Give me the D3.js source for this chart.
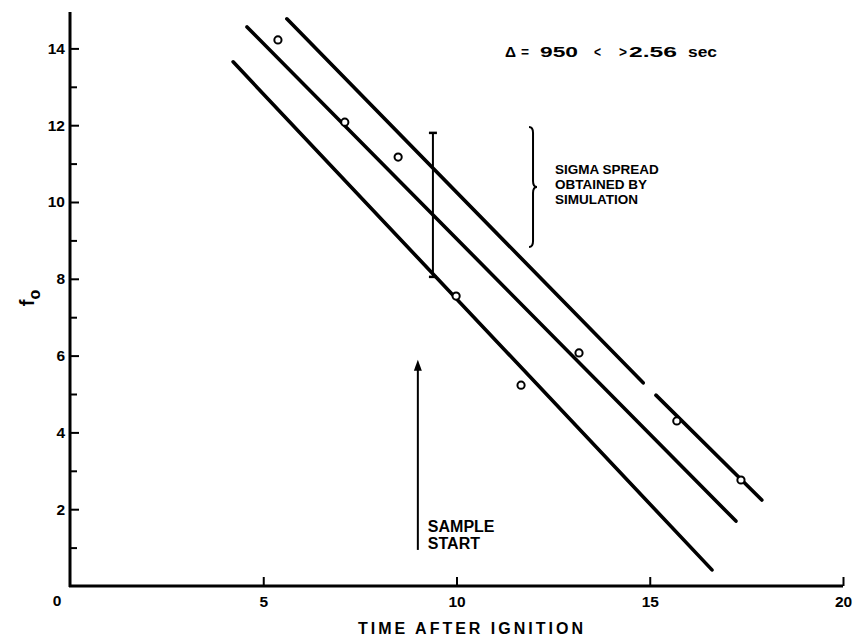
<!DOCTYPE html>
<html>
<head>
<meta charset="utf-8">
<script src="https://cdn.jsdelivr.net/npm/d3@7"></script>
<style>
  html, body { margin: 0; padding: 0; background: #fff; }
  svg { display: block; }
  text { font-family: "Liberation Sans", Arial, sans-serif; font-weight: bold; fill: #000; }
</style>
</head>
<body>
<svg id="chart" width="854" height="640"></svg>
<script>
// ---- data ----
const xTickValues = [5, 10, 15, 20];
const xTickLabels = ["5", "10", "15", "20"];
const yMajorValues = [2, 4, 6, 8, 10, 12, 14];
const yMajorLabels = ["2", "4", "6", "8", "10", "12", "14"];
const yMinorValues = [1, 3, 5, 7, 9, 11, 13];

// observed points (open circles)
const obsX = [5.38, 7.11, 8.49, 9.99, 11.67, 13.17, 15.70, 17.36];
const obsY = [14.22, 12.08, 11.17, 7.55, 5.23, 6.07, 4.30, 2.76];

// fitted line segments (upper line has a break)
const lineX0 = [5.61, 15.16, 4.58, 4.22];
const lineY0 = [14.77, 4.97, 14.56, 13.65];
const lineX1 = [14.83, 17.90, 17.23, 16.61];
const lineY1 = [5.29, 2.24, 1.69, 0.42];

// sigma error bar
const sigmaX = 9.39;
const sigmaLow = 8.05;
const sigmaHigh = 11.8;

// brace
const braceX = 11.98;
const braceTop = 11.95;
const braceBottom = 8.83;

// sample start arrow
const arrowX = 9.0;
const arrowBottom = 0.94;
const arrowTop = 5.89;

// annotation pieces
const deltaParts = ["\u0394", "=", "950", "<", ">", "2.56", "sec"];

const xDomain = [0, 20];
const yDomain = [0, 15];

// ---- layout ----
const svg = d3.select("#chart");
const x = d3.scaleLinear().domain(xDomain).range([70, 843]);
const y = d3.scaleLinear().domain(yDomain).range([586, 10]);

const yAxisMajor = d3.axisLeft(y).tickValues(yMajorValues)
  .tickFormat((d, i) => yMajorLabels[i]).tickSize(-9).tickPadding(6);
const yAxisMinor = d3.axisLeft(y).tickValues(yMinorValues)
  .tickFormat("").tickSize(-7);
const xAxis = d3.axisBottom(x).tickValues(xTickValues)
  .tickFormat((d, i) => xTickLabels[i]).tickSize(-9).tickPadding(8);

function styleAxis(g) {
  g.select(".domain").remove();
  g.selectAll(".tick line").attr("stroke", "#000").attr("stroke-width", 2);
  g.selectAll(".tick text").style("font-size", "15.5px")
    .style("font-family", '"Liberation Sans", Arial, sans-serif').style("font-weight", "bold");
}

const gy = svg.append("g").attr("transform", `translate(${x(0)},0)`).call(yAxisMajor).call(styleAxis);
gy.selectAll(".tick text").attr("x", -5).attr("dx", 0);
svg.append("g").attr("transform", `translate(${x(0)},0)`).call(yAxisMinor).call(styleAxis);
const gx = svg.append("g").attr("transform", `translate(0,${y(0)})`).call(xAxis).call(styleAxis);
gx.selectAll(".tick text").attr("y", 10);

svg.append("line").attr("x1", x(0)).attr("x2", x(0)).attr("y1", y(0) + 1).attr("y2", y(14.95))
  .attr("stroke", "#000").attr("stroke-width", 3);
svg.append("line").attr("x1", x(0) - 1).attr("x2", x(20)).attr("y1", y(0)).attr("y2", y(0))
  .attr("stroke", "#000").attr("stroke-width", 3);

svg.append("text").attr("x", x(0) - 13).attr("y", y(0) + 20).attr("text-anchor", "middle")
  .style("font-size", "15.5px").text("0");

svg.append("text").attr("x", 358).attr("y", 634)
  .attr("textLength", 225).attr("lengthAdjust", "spacing")
  .style("font-size", "16px").text("TIME AFTER IGNITION");

const yt = svg.append("text").attr("transform", `translate(34, 298) rotate(-90)`)
  .attr("text-anchor", "middle").style("font-size", "20px");
yt.append("tspan").text("f");
yt.append("tspan").attr("dy", 6).style("font-size", "16px").text("o");

const lineIdx = d3.range(lineX0.length);
svg.append("g").selectAll("line").data(lineIdx).join("line")
  .attr("x1", i => x(lineX0[i])).attr("y1", i => y(lineY0[i]))
  .attr("x2", i => x(lineX1[i])).attr("y2", i => y(lineY1[i]))
  .attr("stroke", "#000").attr("stroke-width", 3.6).attr("stroke-linecap", "round");

svg.append("g").selectAll("circle").data(d3.range(obsX.length)).join("circle")
  .attr("cx", i => x(obsX[i])).attr("cy", i => y(obsY[i])).attr("r", 3.6)
  .attr("fill", "#fff").attr("stroke", "#000").attr("stroke-width", 2);

svg.append("line").attr("x1", x(sigmaX)).attr("x2", x(sigmaX))
  .attr("y1", y(sigmaLow)).attr("y2", y(sigmaHigh)).attr("stroke", "#000").attr("stroke-width", 2);
[sigmaLow, sigmaHigh].forEach(v => {
  svg.append("line").attr("x1", x(sigmaX) - 4).attr("x2", x(sigmaX) + 4)
    .attr("y1", y(v)).attr("y2", y(v)).attr("stroke", "#000").attr("stroke-width", 2.5);
});

{
  const bx = x(braceX), t = y(braceTop), b = y(braceBottom), m = (t + b) / 2;
  const p = d3.path();
  p.moveTo(bx - 4, t);
  p.quadraticCurveTo(bx, t, bx, t + 6);
  p.lineTo(bx, m - 6);
  p.quadraticCurveTo(bx, m, bx + 4, m);
  p.quadraticCurveTo(bx, m, bx, m + 6);
  p.lineTo(bx, b - 6);
  p.quadraticCurveTo(bx, b, bx - 4, b);
  svg.append("path").attr("d", p.toString()).attr("fill", "none")
    .attr("stroke", "#000").attr("stroke-width", 2);
}

const sigmaLines = ["SIGMA SPREAD", "OBTAINED BY", "SIMULATION"];
svg.append("g").selectAll("text").data(sigmaLines).join("text")
  .attr("x", x(braceX) + 22).attr("y", (d, i) => 174 + i * 15)
  .style("font-size", "13.5px").text(d => d);

svg.append("line").attr("x1", x(arrowX)).attr("x2", x(arrowX))
  .attr("y1", y(arrowBottom)).attr("y2", y(arrowTop) + 8)
  .attr("stroke", "#000").attr("stroke-width", 2);
svg.append("path")
  .attr("d", `M${x(arrowX)},${y(arrowTop)} L${x(arrowX) - 4},${y(arrowTop) + 11} L${x(arrowX) + 4},${y(arrowTop) + 11} Z`)
  .attr("fill", "#000");

const sampleLines = ["SAMPLE", "START"];
svg.append("g").selectAll("text").data(sampleLines).join("text")
  .attr("x", x(arrowX) + 10).attr("y", (d, i) => 532 + i * 17)
  .style("font-size", "16px").text(d => d);

// delta annotation, pieces placed across the measured span
const deltaX = [505, 521, 540, 594, 619, 629, 688];
const deltaW = [11, 8, 38, 7, 8, 48, 29];
svg.append("g").selectAll("text").data(deltaParts).join("text")
  .attr("x", (d, i) => deltaX[i]).attr("y", 57)
  .attr("textLength", (d, i) => deltaW[i]).attr("lengthAdjust", "spacingAndGlyphs")
  .style("font-size", "15px").text(d => d);
</script>
</body>
</html>
